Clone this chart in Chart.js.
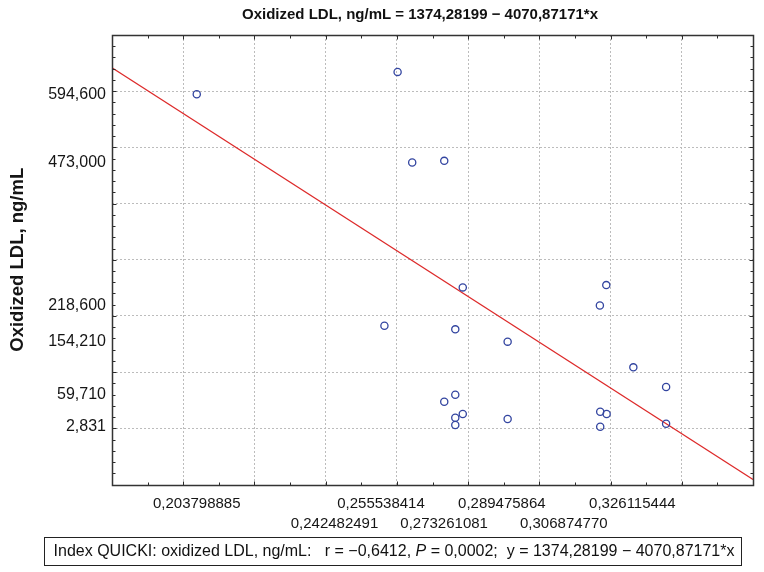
<!DOCTYPE html>
<html><head><meta charset="utf-8">
<script src="https://cdn.jsdelivr.net/npm/chart.js@4.4.0/dist/chart.umd.min.js"></script>
<style>html,body{margin:0;padding:0;background:#fff}#wrap{width:764px;height:572px;position:relative}</style>
</head><body><div id="wrap"><canvas id="c" width="764" height="572"></canvas></div>
<script>
// ---- data ----
const quickiValues = [0.2038, 0.2602, 0.2643, 0.2733, 0.2785, 0.2565, 0.2764, 0.2911, 0.3188, 0.3170, 0.3264,
  0.3356, 0.2764, 0.2733, 0.2785, 0.2764, 0.2764, 0.2911, 0.3171, 0.3171, 0.3189, 0.3356];
const oxLdlValues = [594.6, 634.3, 473.0, 476.0, 250.8, 182.5, 176.1, 154.21, 254.9, 218.6, 108.5,
  73.5, 59.71, 47.3, 25.4, 18.9, 5.9, 16.5, 29.5, 2.831, 25.4, 8.2];
const xTickRow1 = [0.203798885, 0.255538414, 0.289475864, 0.326115444];
const xTickRow2 = [0.242482491, 0.273261081, 0.306874770];
const yTickLabels = [594.6, 473.0, 218.6, 154.21, 59.71, 2.831];
const regIntercept = 1374.28199;
const regSlope = -4070.87171;
const xMin = 0.18, xMax = 0.36, xGridStep = 0.02, xMinorStep = 0.01;
const yMin = -100, yMax = 700, yGridStep = 100, yMinorStep = 20;
const titleText = 'Oxidized LDL, ng/mL = 1374,28199 \u2212 4070,87171*x';
const yTitleText = 'Oxidized LDL, ng/mL';
const footerParts = [
  ['Index QUICKI: oxidized LDL, ng/mL:   r = \u22120,6412, ', false],
  ['P', true],
  [' = 0,0002;  y = 1374,28199 \u2212 4070,87171*x', false]
];

const FONT = "'Liberation Sans', Arial, Helvetica, sans-serif";
const fmt = (v, d) => v.toFixed(d).replace('.', ',');
const near = (a, b) => Math.abs(a - b) < 1e-9;

const xGridVals = [];
for (let i = 1; xMin + i * xGridStep < xMax - 1e-9; i++) xGridVals.push(+(xMin + i * xGridStep).toFixed(4));
const yGridVals = [];
for (let v = 0; v <= 600; v += yGridStep) yGridVals.push(v);
const xLabelVals = [...xTickRow1, ...xTickRow2];

const points = quickiValues.map((x, i) => ({ x, y: oxLdlValues[i] }));
const regLine = [xMin, xMax].map(x => ({ x, y: regIntercept + regSlope * x }));

const framePlugin = {
  id: 'frame',
  afterDraw(chart) {
    const { ctx, chartArea: ca, scales: { x, y } } = chart;
    const L = Math.round(ca.left) + 0.5, R = Math.round(ca.right) + 0.5;
    const T = Math.round(ca.top) + 0.5, B = Math.round(ca.bottom) + 0.5;
    ctx.save();
    ctx.strokeStyle = '#2b2b2b';
    ctx.lineWidth = 1;
    ctx.beginPath();
    const nx = Math.round((xMax - xMin) / xMinorStep);
    for (let i = 1; i < nx; i++) {
      const v = xMin + i * xMinorStep;
      const px = Math.round(x.getPixelForValue(v)) + 0.5;
      const len = (i % 2 === 0) ? 4 : 3;
      ctx.moveTo(px, B); ctx.lineTo(px, B - len);
      ctx.moveTo(px, T); ctx.lineTo(px, T + len);
    }
    const ny = Math.round((yMax - yMin) / yMinorStep);
    for (let i = 1; i < ny; i++) {
      const v = yMin + i * yMinorStep;
      const py = Math.round(y.getPixelForValue(v)) + 0.5;
      const len = (i % 5 === 0) ? 4 : 3;
      ctx.moveTo(L, py); ctx.lineTo(L + len, py);
      ctx.moveTo(R, py); ctx.lineTo(R - len, py);
    }
    ctx.stroke();
    ctx.lineWidth = 1.5;
    ctx.strokeStyle = '#333';
    ctx.strokeRect(L, T, R - L, B - T);

    // title
    ctx.fillStyle = '#111';
    ctx.font = 'bold 15px ' + FONT;
    ctx.textAlign = 'center';
    ctx.textBaseline = 'middle';
    ctx.fillText(titleText, 420, 15);

    // footer box
    ctx.lineWidth = 1;
    ctx.strokeStyle = '#222';
    ctx.strokeRect(44.5, 537.5, 697, 28);
    const size = 16;
    let total = 0;
    footerParts.forEach(([t, it]) => { ctx.font = (it ? 'italic ' : '') + size + 'px ' + FONT; total += ctx.measureText(t).width; });
    let cx = 394 - total / 2;
    ctx.textAlign = 'left';
    footerParts.forEach(([t, it]) => {
      ctx.font = (it ? 'italic ' : '') + size + 'px ' + FONT;
      ctx.fillText(t, cx, 552);
      cx += ctx.measureText(t).width;
    });
    ctx.restore();
  }
};

new Chart(document.getElementById('c'), {
  data: {
    datasets: [
      { type: 'scatter', data: points, pointRadius: 3.6, pointHoverRadius: 3.6, pointBorderWidth: 1.3,
        pointBorderColor: '#3345a0', pointBackgroundColor: 'rgba(0,0,0,0)', showLine: false, order: 1 },
      { type: 'line', data: regLine, borderColor: '#dd2a2a', borderWidth: 1.2, pointRadius: 0, fill: false, order: 2 }
    ]
  },
  options: {
    responsive: false,
    animation: false,
    layout: { padding: { left: 0, top: 35, right: 11, bottom: 0 } },
    plugins: { legend: { display: false }, tooltip: { enabled: false }, title: { display: false } },
    scales: {
      x: {
        type: 'linear', min: xMin, max: xMax,
        afterBuildTicks: s => { s.ticks = [...xGridVals, ...xLabelVals].sort((a, b) => a - b).map(v => ({ value: v })); },
        afterFit: s => { s.height = 87.5; },
        grid: {
          drawTicks: false,
          color: c => (c.tick && xGridVals.some(g => near(g, c.tick.value))) ? '#bcbcbc' : 'rgba(0,0,0,0)',
          lineWidth: 1
        },
        border: { display: false, dash: [2, 2] },
        ticks: {
          autoSkip: false, maxRotation: 0, minRotation: 0, padding: 10, color: '#151515',
          font: { family: FONT, size: 15, lineHeight: 1.3 },
          callback: v => {
            if (xTickRow2.some(t => near(t, v))) return ['', fmt(v, 9)];
            if (xTickRow1.some(t => near(t, v))) return fmt(v, 9);
            return '';
          }
        }
      },
      y: {
        type: 'linear', min: yMin, max: yMax,
        afterBuildTicks: s => { s.ticks = [...yGridVals, ...yTickLabels].sort((a, b) => a - b).map(v => ({ value: v })); },
        afterFit: s => { s.width = 112; },
        grid: {
          drawTicks: false,
          color: c => (c.tick && yGridVals.includes(c.tick.value)) ? '#bcbcbc' : 'rgba(0,0,0,0)',
          lineWidth: 1
        },
        border: { display: false, dash: [2, 2] },
        ticks: {
          autoSkip: false, padding: 6, color: '#151515',
          font: { family: FONT, size: 16 },
          callback: v => yTickLabels.some(t => near(t, v)) ? fmt(v, 3) : ''
        },
        title: { display: true, text: yTitleText, color: '#151515', padding: { top: 7, bottom: 0 },
          font: { family: FONT, size: 18.5, weight: 'bold' } }
      }
    }
  },
  plugins: [framePlugin]
});
</script>
</body></html>
